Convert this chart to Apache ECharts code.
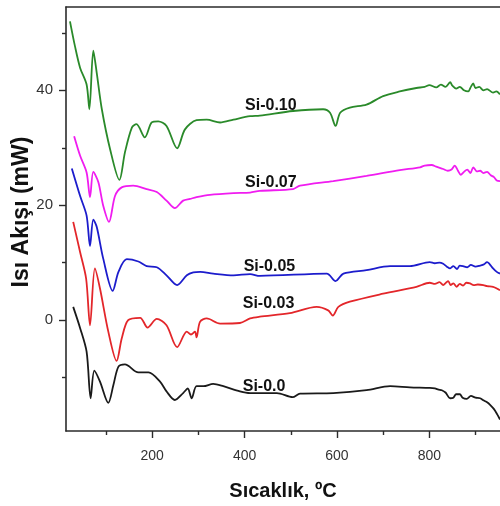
<!DOCTYPE html>
<html>
<head>
<meta charset="utf-8">
<script src="https://cdn.jsdelivr.net/npm/echarts@6/dist/echarts.min.js"></script>
<style>
  html, body { margin: 0; padding: 0; background: #fff; }
  #chart { width: 500px; height: 506px; }
</style>
</head>
<body>
<div id="chart"></div>
<script>
// DSC heat-flow curves (mW) versus temperature (°C)
const xLabelTicks = [200, 400, 600, 800];
const xMinorTicks = [100, 300, 500, 700, 900];
const yLabelTicks = [0, 20, 40];
const yMinorTicks = [-10, 10, 30, 50];

const seriesNames = ['Si-0.10', 'Si-0.07', 'Si-0.05', 'Si-0.03', 'Si-0.0'];

const si010T = [22, 33, 44, 58, 64, 72.5, 80, 91, 109, 129, 141, 156, 166, 184, 199, 213, 231, 254, 271, 296, 318, 347, 376, 412, 433, 505, 570, 585, 597, 607, 628, 664, 700, 736, 772, 790, 800, 815, 825, 835, 845, 850, 858, 866, 875, 884, 890, 895, 900, 908, 917, 925, 938, 945, 953];
const si010V = [52.0, 47.6, 43.9, 41.0, 36.7, 46.9, 43.0, 36.7, 29.7, 24.4, 29.2, 33.5, 34.1, 31.8, 34.4, 34.6, 33.8, 29.9, 33.2, 34.8, 34.9, 34.4, 34.9, 35.5, 35.6, 36.4, 36.7, 36.1, 33.8, 36.1, 37.0, 37.5, 39.0, 39.8, 40.4, 40.6, 40.9, 40.5, 41.0, 40.6, 41.4, 40.8, 40.3, 40.6, 40.0, 39.8, 40.6, 41.2, 40.4, 40.6, 40.0, 40.2, 39.6, 39.8, 39.3];

const si007T = [31, 44, 58, 65.4, 72.5, 83.5, 94, 106.5, 119.5, 134, 159, 188, 210, 231, 249, 267, 282, 296, 325, 376, 412, 433, 505, 520, 592, 664, 736, 780, 790, 805, 815, 830, 840, 848, 855, 862, 868, 875, 882, 889, 895, 903, 910, 917, 925, 933, 940, 946, 953];
const si007V = [32.0, 28.6, 25.7, 21.4, 25.8, 24.0, 19.9, 17.1, 21.6, 23.1, 23.4, 22.8, 22.3, 20.8, 19.5, 20.8, 21.1, 21.4, 21.8, 22.1, 22.2, 22.5, 22.8, 23.4, 24.2, 25.1, 26.1, 26.6, 26.9, 27.0, 26.7, 26.3, 26.0, 26.2, 26.9, 26.0, 25.3, 25.8, 26.2, 25.6, 26.6, 25.9, 26.0, 25.6, 25.8, 25.2, 24.9, 24.3, 24.2];

const si005T = [26, 44, 58, 65.4, 72.5, 80, 94, 114.5, 127, 145, 170, 188, 210, 231, 254, 275, 289, 304, 332, 376, 412, 433, 578, 597, 614, 664, 715, 758, 801, 812, 822, 830, 838, 845, 852, 860, 866, 873, 882, 890, 900, 910, 918, 925, 930, 938, 946, 953];
const si005V = [26.4, 21.6, 18.2, 12.9, 17.5, 16.2, 10.7, 5.1, 8.4, 10.6, 10.2, 9.4, 9.2, 7.8, 6.1, 7.8, 8.3, 8.4, 8.1, 7.8, 8.0, 7.7, 8.1, 6.8, 8.1, 8.7, 9.4, 9.4, 10.1, 9.9, 10.0, 9.8, 9.3, 9.0, 9.4, 8.9, 9.5, 9.4, 9.2, 9.6, 9.3, 9.5, 9.7, 10.1, 9.8, 9.0, 8.4, 8.1];

const si003T = [29, 44, 57, 65.4, 76, 87, 105, 123, 134, 148, 174, 190, 210, 231, 254, 275, 284, 292.6, 296, 303.5, 318, 347, 390, 412, 433, 498, 556, 581, 591, 603, 628, 700, 772, 801, 812, 822, 830, 836, 841, 846, 852, 859, 866, 873, 880, 888, 896, 905, 917, 925, 938, 946, 953];
const si003V = [17.1, 11.8, 7.2, -0.9, 9.0, 5.5, -2.0, -7.1, -3.2, 0.0, 0.4, -1.3, 0.2, -0.9, -4.7, -2.0, -2.5, -2.0, -3.0, -0.3, 0.3, -0.6, -0.5, 0.3, 0.6, 1.2, 2.3, 1.7, 0.8, 2.3, 3.2, 4.6, 5.8, 6.5, 6.3, 6.6, 6.1, 6.5, 6.8, 6.1, 6.4, 5.8, 6.3, 6.0, 6.5, 6.4, 6.1, 6.2, 6.1, 5.9, 5.8, 5.5, 5.2];

const si000T = [29, 44, 58, 66.8, 74.7, 87, 105, 116, 127, 141, 170, 192, 217, 231, 249, 267, 277, 285.5, 296, 311, 332, 354, 390, 412, 470, 504, 520, 592, 664, 715, 758, 801, 812, 820, 827, 835, 845, 852, 858, 866, 872, 881, 890, 900, 910, 918, 925, 931, 940, 947, 953];
const si000V = [2.3, -1.4, -5.5, -13.6, -8.8, -10.7, -14.4, -11.3, -8.1, -7.7, -9.1, -9.1, -10.7, -12.4, -13.9, -12.7, -11.9, -13.6, -11.5, -11.5, -11.1, -11.5, -12.4, -12.7, -12.7, -13.4, -12.8, -12.7, -12.2, -11.5, -11.7, -11.8, -11.9, -12.1, -12.2, -12.6, -13.6, -13.5, -12.9, -12.9, -13.5, -13.7, -13.2, -13.5, -13.6, -14.0, -14.3, -14.7, -15.5, -16.4, -17.3];

// Where each curve's name is written (data coordinates of the text's left-middle point)
const labelAnchors = [[401, 37.4], [401, 24.0], [398, 9.3], [396, 2.9], [396, -11.5]];

const colors = ['#2a8a2a', '#f01cf0', '#1c1ccc', '#e3262a', '#1a1a1a'];

const curves = [
  [si010T, si010V], [si007T, si007V], [si005T, si005V], [si003T, si003V], [si000T, si000V]
];

const xMin = 13.4, xMax = 953;
const yMin = -19.3, yMax = 54.5;
const axisColor = '#2b2b2b';
const font = 'Liberation Sans, Arial, sans-serif';

const chart = echarts.init(document.getElementById('chart'), null, { renderer: 'canvas' });

const series = curves.map(([t, v], i) => ({
  name: seriesNames[i],
  type: 'line',
  xAxisIndex: 0,
  yAxisIndex: 0,
  data: t.map((x, k) => [x, v[k]]),
  smooth: 0.3,
  showSymbol: false,
  symbol: 'none',
  lineStyle: { color: colors[i], width: 1.8 },
  z: 3,
  markPoint: {
    symbol: 'circle',
    symbolSize: 0,
    silent: true,
    data: [{
      coord: labelAnchors[i],
      label: {
        show: true,
        formatter: seriesNames[i],
        position: 'right',
        distance: 0,
        color: '#111',
        fontSize: 16,
        fontWeight: 'bold',
        fontFamily: font
      }
    }]
  }
}));

chart.setOption({
  animation: false,
  backgroundColor: '#fff',
  grid: { left: 66, top: 7, right: 0, bottom: 73, containLabel: false },
  graphic: [{
    type: 'text',
    x: 22,
    y: 212,
    rotation: Math.PI / 2,
    style: {
      text: 'Isı Akışı (mW)',
      fontSize: 23,
      fontWeight: 'bold',
      fontFamily: font,
      fill: '#111',
      align: 'center',
      verticalAlign: 'middle'
    }
  }],
  xAxis: [
    {
      type: 'value', min: xMin, max: xMax, position: 'bottom',
      name: 'Sıcaklık, ºC', nameLocation: 'middle', nameGap: 50,
      nameTextStyle: { fontSize: 20, fontWeight: 'bold', color: '#111', fontFamily: font },
      axisLine: { show: true, onZero: false, lineStyle: { color: axisColor, width: 1.6 } },
      axisTick: { show: true, inside: false, length: 7, customValues: xLabelTicks, lineStyle: { color: axisColor, width: 1.4 } },
      axisLabel: { show: true, customValues: xLabelTicks, fontSize: 14, color: '#333', margin: 18, fontFamily: font },
      splitLine: { show: false }
    },
    {
      type: 'value', min: xMin, max: xMax, position: 'bottom',
      axisLine: { show: false, onZero: false },
      axisTick: { show: true, inside: false, length: 4, customValues: xMinorTicks, lineStyle: { color: axisColor, width: 1.4 } },
      axisLabel: { show: false },
      splitLine: { show: false }
    },
    {
      type: 'value', min: xMin, max: xMax, position: 'top',
      axisLine: { show: true, onZero: false, lineStyle: { color: axisColor, width: 1.6 } },
      axisTick: { show: false },
      axisLabel: { show: false },
      splitLine: { show: false }
    }
  ],
  yAxis: [
    {
      type: 'value', min: yMin, max: yMax, position: 'left',
      axisLine: { show: true, onZero: false, lineStyle: { color: axisColor, width: 1.6 } },
      axisTick: { show: true, inside: false, length: 7, customValues: yLabelTicks, lineStyle: { color: axisColor, width: 1.4 } },
      axisLabel: { show: true, customValues: yLabelTicks, fontSize: 15, color: '#333', margin: 13, fontFamily: font },
      splitLine: { show: false }
    },
    {
      type: 'value', min: yMin, max: yMax, position: 'left',
      axisLine: { show: false, onZero: false },
      axisTick: { show: true, inside: false, length: 4, customValues: yMinorTicks, lineStyle: { color: axisColor, width: 1.4 } },
      axisLabel: { show: false },
      splitLine: { show: false }
    }
  ],
  series: series
});
</script>
</body>
</html>
